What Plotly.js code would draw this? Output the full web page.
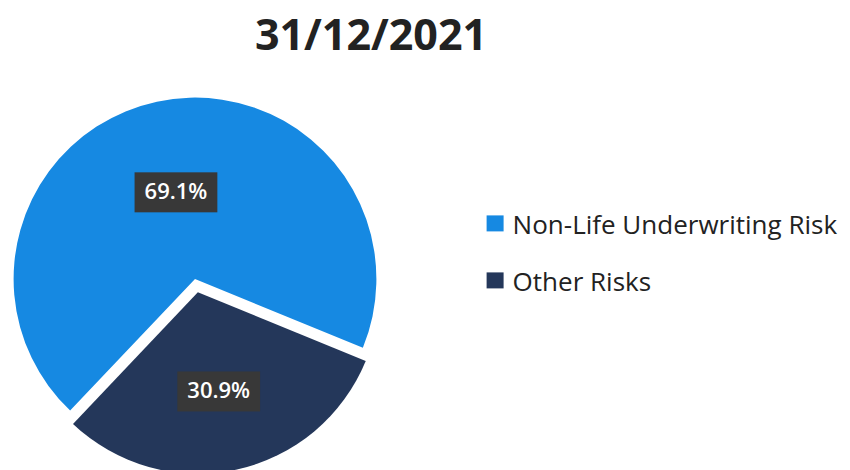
<!DOCTYPE html>
<html><head><meta charset="utf-8">
<script src="https://cdn.plot.ly/plotly-3.0.1.min.js"></script>
<style>html,body{margin:0;padding:0;overflow:hidden;background:#fff}#chart{width:850px;height:480px}</style>
</head><body><div id="chart"></div>
<script>
const labels = ['Non-Life Underwriting Risk', 'Other Risks'];
const values = [69.1, 30.9];
const colors = ['#1689e2', '#24375a'];
const pulls = [0, 0.075];
const chartTitle = '31/12/2021';

const trace = {
  type: 'pie', labels: labels, values: values, sort: false, direction: 'clockwise', rotation: 223.5,
  pull: pulls,
  marker: {colors: colors, line: {color: '#ffffff', width: 0}},
  texttemplate: '%{percent:.1%}', textposition: 'inside', insidetextorientation: 'horizontal',
  textfont: {family: 'Open Sans', size: 22, weight: 600, color: '#ffffff'},
  domain: {x: [0, 390/850], y: [0.01125, 0.82625]},
  hoverinfo: 'skip'
};
const layout = {
  width: 850, height: 480, margin: {l: 0, r: 0, t: 0, b: 0}, paper_bgcolor: '#ffffff',
  title: {text: chartTitle, font: {family: 'Open Sans', size: 43, weight: 700, color: '#222222'},
    x: 0.4365, xanchor: 'center', xref: 'paper', y: 1 - 35/480, yanchor: 'middle', yref: 'container'},
  showlegend: true,
  legend: {x: 0.556, xanchor: 'left', y: 1 - 200/480, yanchor: 'top', bgcolor: 'rgba(0,0,0,0)',
    font: {family: 'Open Sans', size: 26, color: '#222222'}}
};
Plotly.newPlot('chart', [trace], layout, {staticPlot: true}).then(function(gd){
  gd.querySelectorAll('g.slicetext').forEach(function(g){
    const t = g.querySelector('text');
    if(!t) return;
    const bb = t.getBBox();
    const r = document.createElementNS('http://www.w3.org/2000/svg', 'rect');
    r.setAttribute('x', bb.x - 10); r.setAttribute('y', bb.y - 3);
    r.setAttribute('width', bb.width + 20); r.setAttribute('height', bb.height + 10);
    const tf = t.getAttribute('transform'); if(tf) r.setAttribute('transform', tf);
    r.setAttribute('fill', '#383838');
    t.parentNode.insertBefore(r, t);
  });
  gd.querySelectorAll('.legend .legendpoints path').forEach(function(p){ p.setAttribute('d', 'M11,8H-6V-8H11Z'); });
  const sb = gd.querySelector('.legend .scrollbox'); if(sb) sb.removeAttribute('clip-path');
  const items = gd.querySelectorAll('.legend .traces');
  if(items.length > 1){
    const m0 = /translate\(\s*([-\d.]+)[ ,]+([-\d.]+)/.exec(items[0].getAttribute('transform'));
    if(m0){ items[1].setAttribute('transform', 'translate(' + m0[1] + ',' + (parseFloat(m0[2]) + 57) + ')'); }
  }
});
</script></body></html>
